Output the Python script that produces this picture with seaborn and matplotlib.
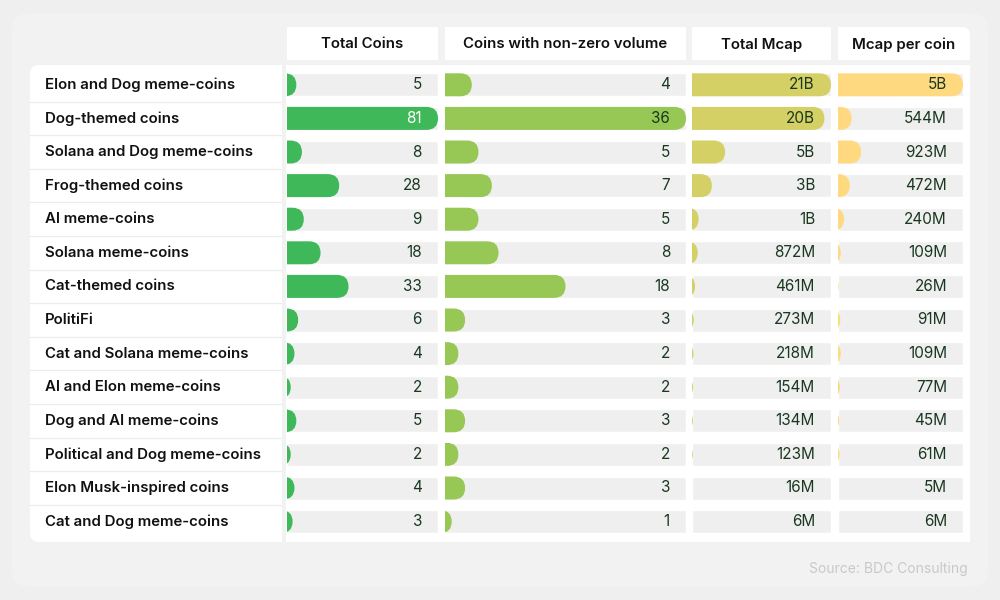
import matplotlib
matplotlib.use("Agg")
import matplotlib.pyplot as plt
import matplotlib.transforms as mtransforms
from matplotlib.patches import FancyBboxPatch, Rectangle
import seaborn as sns
import pandas as pd

# ---------------- data ----------------
categories = [
    "Elon and Dog meme-coins", "Dog-themed coins", "Solana and Dog meme-coins",
    "Frog-themed coins", "AI meme-coins", "Solana meme-coins", "Cat-themed coins",
    "PolitiFi", "Cat and Solana meme-coins", "AI and Elon meme-coins",
    "Dog and AI meme-coins", "Political and Dog meme-coins",
    "Elon Musk-inspired coins", "Cat and Dog meme-coins",
]
total_coins = [5, 81, 8, 28, 9, 18, 33, 6, 4, 2, 5, 2, 4, 3]
nonzero_coins = [4, 36, 5, 7, 5, 8, 18, 3, 2, 2, 3, 2, 3, 1]
total_mcap_m = [21000, 20000, 5000, 3000, 1000, 872, 461, 273, 218, 154, 134, 123, 16, 6]
mcap_per_coin_m = [5000, 544, 923, 472, 240, 109, 26, 91, 109, 77, 45, 61, 5, 6]
total_mcap_labels = ["21B", "20B", "5B", "3B", "1B", "872M", "461M", "273M",
                     "218M", "154M", "134M", "123M", "16M", "6M"]
per_coin_labels = ["5B", "544M", "923M", "472M", "240M", "109M", "26M", "91M",
                   "109M", "77M", "45M", "61M", "5M", "6M"]
headers = ["Total Coins", "Coins with non-zero volume", "Total Mcap", "Mcap per coin"]
source_text = "Source: BDC Consulting"

# ---------------- style ----------------
sns.set_theme(style="white")
plt.rcParams["font.family"] = ["Inter", "DejaVu Sans"]

BG = "#f0eff0"
TRACK = "#efefef"
TEXT_DARK = "#111111"
NUM_COLOR = "#1a3820"
colors = ["#3fb85a", "#97c755", "#d5d066", "#fed97f"]

FW, FH = 1000, 600
fig = plt.figure(figsize=(10, 6), dpi=100)
fig.patch.set_facecolor(BG)

# background axes in pixel coordinates
bg = fig.add_axes([0, 0, 1, 1], zorder=0)
bg.set_xlim(0, FW)
bg.set_ylim(FH, 0)
bg.axis("off")

# very subtle lighter outer panel
bg.add_patch(FancyBboxPatch((12, 14), 976, 572, boxstyle="round,pad=0,rounding_size=14",
                            fc="#f2f2f2", ec="none"))

ROW_TOP, ROW_BOT = 68.0, 538.4
PANEL_TOP, PANEL_BOT = 65, 542
HEAD_TOP, HEAD_BOT = 27, 60

# label panel (rounded left corners)
bg.add_patch(FancyBboxPatch((30, PANEL_TOP), 252, PANEL_BOT - PANEL_TOP,
                            boxstyle="round,pad=0,rounding_size=9", fc="white", ec="none"))
bg.add_patch(Rectangle((200, PANEL_TOP), 82, PANEL_BOT - PANEL_TOP, fc="white", ec="none"))
# right white panel
bg.add_patch(Rectangle((286, PANEL_TOP), 970 - 286, PANEL_BOT - PANEL_TOP, fc="white", ec="none"))

# columns: (left, track right, header right)
cols = [(287, 438, 438), (445, 686, 686), (692, 831, 831), (838, 963, 970)]
values = [total_coins, nonzero_coins, total_mcap_m, mcap_per_coin_m]
labels = [[str(v) for v in total_coins], [str(v) for v in nonzero_coins],
          total_mcap_labels, per_coin_labels]

# headers
for i, ((x0, x1, hx1), h) in enumerate(zip(cols, headers)):
    if i == len(cols) - 1:
        bg.add_patch(FancyBboxPatch((x0, HEAD_TOP), hx1 - x0, HEAD_BOT - HEAD_TOP,
                                    boxstyle="round,pad=0,rounding_size=8", fc="white", ec="none"))
        bg.add_patch(Rectangle((x0, HEAD_TOP), 40, HEAD_BOT - HEAD_TOP, fc="white", ec="none"))
        bg.add_patch(Rectangle((x0, HEAD_TOP + 12), hx1 - x0, HEAD_BOT - HEAD_TOP - 12,
                               fc="white", ec="none"))
    else:
        bg.add_patch(Rectangle((x0, HEAD_TOP), hx1 - x0, HEAD_BOT - HEAD_TOP, fc="white", ec="none"))
    bg.text((x0 + hx1) / 2, (HEAD_TOP + HEAD_BOT) / 2 + 1, h, ha="center", va="center",
            fontsize=10.8, fontweight="semibold", color=TEXT_DARK)

n = len(categories)
pitch = (ROW_BOT - ROW_TOP) / n
bar_h_px = 23.0
bar_w = bar_h_px / pitch


def fax(x0, x1):
    return fig.add_axes([x0 / FW, 1 - ROW_BOT / FH, (x1 - x0) / FW, (ROW_BOT - ROW_TOP) / FH],
                        zorder=2)


# label column
lab_ax = fax(30, 282)
lab_ax.set_xlim(0, 1)
lab_ax.set_ylim(n - 0.5, -0.5)
lab_ax.axis("off")
lab_ax.patch.set_alpha(0)
for i, c in enumerate(categories):
    lab_ax.text(15 / 252, i, c, ha="left", va="center", fontsize=10.8,
                fontweight="semibold", color=TEXT_DARK)
    if i < n - 1:
        lab_ax.axhline(i + 0.5, color="#ececec", lw=0.9)

# bar columns
for (x0, x1, _), vals, labs, col in zip(cols, values, labels, colors):
    ax = fax(x0, x1)
    vmax = max(vals)
    df = pd.DataFrame({"cat": categories, "val": vals})
    # tracks
    sns.barplot(data=df.assign(val=vmax), x="val", y="cat", orient="h", ax=ax,
                color=TRACK, width=bar_w, saturation=1)
    ntrack = len(ax.patches)
    sns.barplot(data=df, x="val", y="cat", orient="h", ax=ax,
                color=col, width=bar_w, saturation=1)
    ax.set_xlim(0, vmax)
    ax.set_ylim(n - 0.5, -0.5)
    ax.axis("off")
    ax.patch.set_alpha(0)

    wpx = x1 - x0
    rx = (bar_h_px / 2) * vmax / wpx  # radius in x data units
    ry = bar_w / 2
    bars = list(ax.patches)[ntrack:]
    for p in bars:
        y = p.get_y()
        h = p.get_height()
        v = p.get_width()
        p.remove()
        big = vmax * 2
        fb = FancyBboxPatch((v - big, y), big, h,
                            boxstyle=f"round,pad=0,rounding_size={rx}",
                            mutation_aspect=ry / rx, fc=col, ec="none", zorder=3)
        ax.add_patch(fb)
    trans = mtransforms.offset_copy(ax.transData, fig=fig, x=-16, y=0, units="dots")
    for i, (v, lab) in enumerate(zip(vals, labs)):
        ink = "white" if (col == colors[0] and v == vmax) else NUM_COLOR
        ax.text(vmax, i, lab, ha="right", va="center", fontsize=11,
                color=ink, transform=trans, zorder=5)

bg.text(968, 569, source_text, ha="right", va="center", fontsize=10, color="#c9c9c9")

fig.savefig("out.png", dpi=100, facecolor=fig.get_facecolor())
